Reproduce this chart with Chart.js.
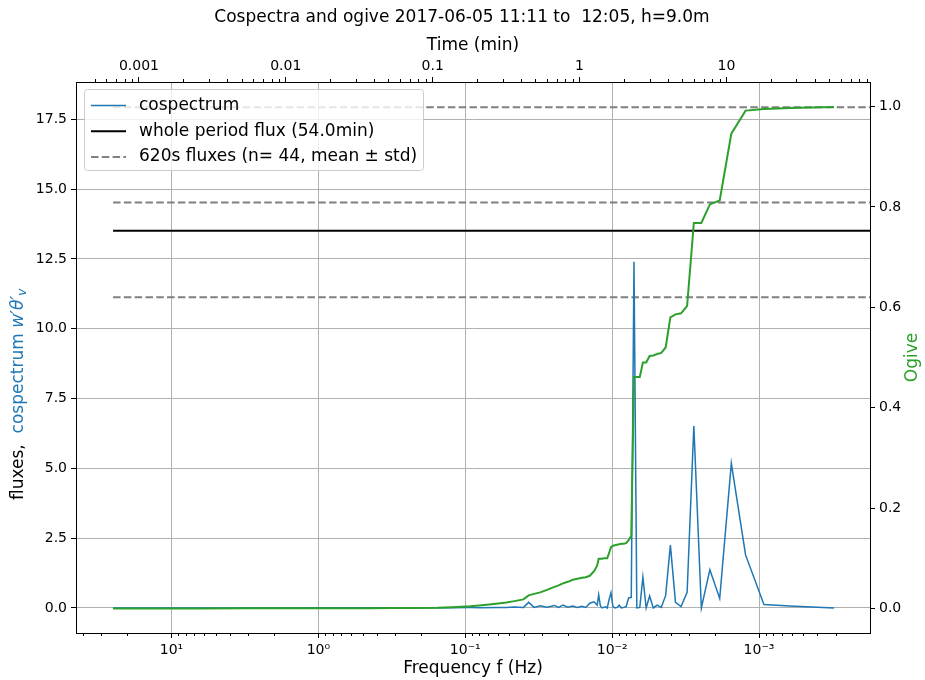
<!DOCTYPE html>
<html>
<head>
<meta charset="utf-8">
<script src="https://cdn.jsdelivr.net/npm/chart.js@4.4.0/dist/chart.umd.min.js"></script>
<style>
  html, body { margin: 0; padding: 0; background: #fff; }
  canvas { display: block; }
</style>
</head>
<body>
<canvas id="grafico" width="925" height="680"></canvas>
<script>
// whole record is 54 min, frequencies are harmonic / periodSec
const periodSec = 3240;

const harmonic = [81000, 40000, 20000, 10000, 5000, 2500, 1500, 1000, 700, 500, 400, 300, 250, 200, 170, 150,
  130, 120, 110, 100, 90, 80, 75, 70, 65, 60, 56, 52, 49, 46, 43, 41, 40, 39, 38, 37, 36, 35, 34, 33, 32, 31,
  30, 29, 28, 27, 26, 25, 24, 23, 22, 21, 20, 19, 18, 17, 16, 15, 14, 13, 12, 11, 10, 9, 8, 7, 6, 5, 4, 3, 2, 1];

const cospectrum = [0, 0, 0, 0, 0.002, 0.003, 0.005, 0.006, 0.008, 0.01, 0.01, 0.015, 0.01, 0.02, 0.015, 0.03,
  0.02, 0.2, 0.02, 0.08, 0.03, 0.09, 0.02, 0.1, 0.03, 0.07, 0.02, 0.06, 0.02, 0.17, 0.22, 0.1, 0.47, 0.08, 0, 0.02, 0.04, 0, 0.3, 0.55, 0.05, 0,
  0.02, 0.1, 0, 0.02, 0.05, 0.36, 0.38, 12.4, 0, 0.02, 1.1, 0, 0.43, 0, 0.1, 0.02, 0.45, 2.25, 0.2, 0.05, 0.56, 6.52, 0, 1.37, 0.34, 5.18, 1.9, 0.12, 0.07, 0];

const ogive = [0, 0, 0, 0.0001, 0.0002, 0.0003, 0.0004, 0.0006, 0.001, 0.0015, 0.0025, 0.0045, 0.0065, 0.0095, 0.012, 0.0145,
  0.018, 0.026, 0.029, 0.032, 0.037, 0.043, 0.046, 0.05, 0.053, 0.057, 0.059, 0.061, 0.062, 0.065, 0.074, 0.085, 0.099, 0.099, 0.099, 0.1, 0.1, 0.1, 0.11, 0.122, 0.125, 0.126,
  0.127, 0.128, 0.129, 0.129, 0.13, 0.136, 0.145, 0.461, 0.461, 0.461, 0.49, 0.49, 0.503, 0.504, 0.507, 0.509, 0.52, 0.58, 0.586, 0.588, 0.603, 0.768, 0.768, 0.805, 0.813, 0.946, 0.992, 0.995, 0.997, 0.999];

const wholeFlux = 13.51;
const fluxes620 = [17.94, 14.52, 11.13];
const lineFromHz = 25;
const lineToHz = 1e-5;

const freqMin = 1.755e-4, freqMax = 44.7;
const yMin = -0.897, yMax = 18.84;
const ogMin = -0.049, ogMax = 1.049;

const BLUE = '#1f77b4', GREEN = '#2ca02c', GREY = '#808080';
const FONT = "'DejaVu Sans', sans-serif";

Chart.defaults.font.family = FONT;
Chart.defaults.font.size = 14;
Chart.defaults.color = '#000';

const freq = harmonic.map(k => k / periodSec);

function isDecade(v) {
  const l = Math.log10(v);
  return Math.abs(l - Math.round(l)) < 1e-6;
}
function isNice(v) {
  const m = v / Math.pow(10, Math.floor(Math.log10(v) + 1e-9));
  return Math.abs(m - Math.round(m)) < 1e-6;
}
const supMap = { '-': '\u207B', '0': '\u2070', '1': '\u00B9', '2': '\u00B2', '3': '\u00B3', '4': '\u2074' };
function powLabel(v) {
  return '10' + String(Math.round(Math.log10(v))).split('').map(c => supMap[c]).join('');
}

function hline(y) {
  return [{ x: lineFromHz, y: y }, { x: lineToHz, y: y }];
}

// minor ticks are shorter than the major ones, the library can't do that itself
const minorTicks = {
  id: 'minorTicks',
  afterDraw(chart) {
    const ctx = chart.ctx;
    ctx.save();
    ctx.strokeStyle = '#000';
    ctx.lineWidth = 1;
    ['x', 'xTop'].forEach(id => {
      const s = chart.scales[id];
      const edge = id === 'x' ? chart.chartArea.bottom : chart.chartArea.top;
      const dir = id === 'x' ? 1 : -1;
      s.ticks.forEach(t => {
        if (isDecade(t.value) || !isNice(t.value)) return;
        const px = Math.round(s.getPixelForValue(t.value)) + 0.5;
        ctx.beginPath();
        ctx.moveTo(px, edge);
        ctx.lineTo(px, edge + dir * 3);
        ctx.stroke();
      });
    });
    ctx.restore();
  }
};

const textStuff = {
  id: 'textStuff',
  afterDraw(chart) {
    const ctx = chart.ctx;
    const a = chart.chartArea;
    const cx = (a.left + a.right) / 2;
    ctx.save();
    ctx.fillStyle = '#000';
    ctx.textBaseline = 'middle';
    ctx.textAlign = 'center';
    ctx.font = '17px ' + FONT;
    ctx.fillText('Cospectra and ogive 2017-06-05 11:11 to  12:05, h=9.0m', 462, 18);
    ctx.fillText('Time (min)', cx, 46);
    ctx.fillText('Frequency f (Hz)', cx, 669);

    // right axis title
    ctx.save();
    ctx.translate(913, (a.top + a.bottom) / 2);
    ctx.rotate(-Math.PI / 2);
    ctx.fillStyle = GREEN;
    ctx.fillText('Ogive', 0, 0);
    ctx.restore();

    // left axis title, two colours
    ctx.save();
    ctx.translate(19, 500);
    ctx.rotate(-Math.PI / 2);
    ctx.textAlign = 'left';
    let x = 0;
    ctx.font = '17px ' + FONT;
    ctx.fillStyle = '#000';
    ctx.fillText('fluxes,  ', x, 0);
    x += ctx.measureText('fluxes,  ').width;
    ctx.fillStyle = BLUE;
    ctx.fillText('cospectrum ', x, 0);
    x += ctx.measureText('cospectrum ').width;
    ctx.font = 'italic 17px ' + FONT;
    ctx.fillText('w\u2032\u03B8\u2032', x, 0);
    x += ctx.measureText('w\u2032\u03B8\u2032').width;
    ctx.font = 'italic 12px ' + FONT;
    ctx.fillText('v', x, 4);
    ctx.restore();

    // legend
    const lx = a.left + 8, ly = a.top + 7, lw = 339, lh = 81;
    ctx.fillStyle = 'rgba(255,255,255,0.8)';
    ctx.strokeStyle = '#cccccc';
    ctx.lineWidth = 1;
    ctx.beginPath();
    ctx.roundRect(lx + 0.5, ly + 0.5, lw, lh, 3);
    ctx.fill();
    ctx.stroke();
    const rows = [
      { label: 'cospectrum', color: BLUE, width: 1.5, dash: [] },
      { label: 'whole period flux (54.0min)', color: '#000', width: 2, dash: [] },
      { label: '620s fluxes (n= 44, mean \u00B1 std)', color: GREY, width: 2, dash: [7.5, 3.3] }
    ];
    ctx.font = '17px ' + FONT;
    ctx.textAlign = 'left';
    rows.forEach((r, i) => {
      const ry = ly + 16.5 + i * 25.7;
      ctx.strokeStyle = r.color;
      ctx.lineWidth = r.width;
      ctx.setLineDash(r.dash);
      ctx.beginPath();
      ctx.moveTo(lx + 7, ry);
      ctx.lineTo(lx + 42, ry);
      ctx.stroke();
      ctx.setLineDash([]);
      ctx.fillStyle = '#000';
      ctx.fillText(r.label, lx + 55, ry);
    });
    ctx.restore();
  }
};

const tickBlack = c => (c.tick && isDecade(c.tick.value)) ? '#000' : 'rgba(0,0,0,0)';

const ctx = document.getElementById('grafico').getContext('2d');
new Chart(ctx, {
  type: 'scatter',
  data: {
    datasets: [
      {
        label: 'ogive',
        data: freq.map((f, i) => ({ x: f, y: ogive[i] })),
        yAxisID: 'y2',
        showLine: true,
        borderColor: GREEN,
        borderWidth: 2,
        pointRadius: 0
      },
      {
        label: 'cospectrum',
        data: freq.map((f, i) => ({ x: f, y: cospectrum[i] })),
        yAxisID: 'y',
        showLine: true,
        borderColor: BLUE,
        borderWidth: 1.5,
        pointRadius: 0
      },
      {
        label: 'whole period flux (54.0min)',
        data: hline(wholeFlux),
        yAxisID: 'y',
        showLine: true,
        borderColor: '#000',
        borderWidth: 2,
        pointRadius: 0
      },
      ...fluxes620.map(v => ({
        label: '620s fluxes',
        data: hline(v),
        yAxisID: 'y',
        showLine: true,
        borderColor: GREY,
        borderWidth: 2,
        borderDash: [7.5, 3.3],
        pointRadius: 0
      }))
    ]
  },
  options: {
    responsive: false,
    animation: false,
    events: [],
    layout: { padding: 0 },
    plugins: { legend: { display: false }, tooltip: { enabled: false } },
    scales: {
      x: {
        type: 'logarithmic',
        position: 'bottom',
        reverse: true,
        min: freqMin,
        max: freqMax,
        afterFit: s => { s.height = 47; },
        border: { color: '#000', width: 1 },
        grid: { color: c => (c.tick && isDecade(c.tick.value)) ? '#b0b0b0' : 'rgba(0,0,0,0)', tickColor: tickBlack, tickLength: 5, lineWidth: 1 },
        ticks: { autoSkip: false, maxRotation: 0, padding: 4, callback: v => isDecade(v) ? powLabel(v) : '' }
      },
      xTop: {
        type: 'logarithmic',
        position: 'top',
        min: 1 / (60 * freqMax),
        max: 1 / (60 * freqMin),
        afterFit: s => { s.height = 82; },
        border: { color: '#000', width: 1 },
        grid: { drawOnChartArea: false, color: 'rgba(0,0,0,0)', tickColor: tickBlack, tickLength: 5 },
        ticks: { autoSkip: false, maxRotation: 0, padding: 2, callback: v => isDecade(v) ? String(Number(v.toPrecision(1))) : '' }
      },
      y: {
        type: 'linear',
        position: 'left',
        min: yMin,
        max: yMax,
        afterFit: s => { s.width = 76; },
        border: { color: '#000', width: 1 },
        grid: { color: '#b0b0b0', tickColor: '#000', tickLength: 5, lineWidth: 1 },
        ticks: { stepSize: 2.5, includeBounds: false, padding: 4, callback: v => v.toFixed(1) }
      },
      y2: {
        type: 'linear',
        position: 'right',
        min: ogMin,
        max: ogMax,
        afterFit: s => { s.width = 55; },
        border: { color: '#000', width: 1 },
        grid: { drawOnChartArea: false, tickColor: '#000', tickLength: 5 },
        ticks: { stepSize: 0.2, includeBounds: false, padding: 4, callback: v => Math.abs(v).toFixed(1) }
      }
    }
  },
  plugins: [minorTicks, textStuff]
});
</script>
</body>
</html>
